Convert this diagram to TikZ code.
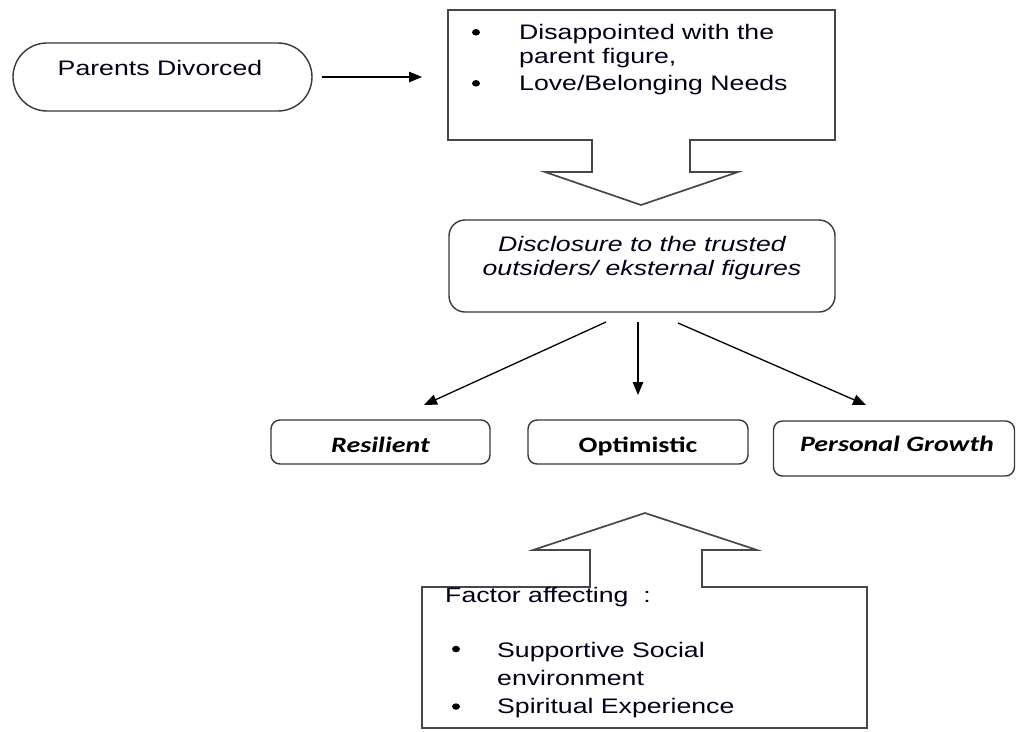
\documentclass[tikz,border=0pt]{standalone}
\usepackage{fontspec}
\usepackage{graphicx}
\setmainfont{Liberation Sans}
\newfontfamily\calfont{Carlito}
\usetikzlibrary{arrows.meta,calc,shapes.geometric}
\newcommand{\wx}[1]{\scalebox{1.27}[1]{#1}}
\begin{document}
\begin{tikzpicture}[x=1pt,y=-1pt,
  txt/.style={inner sep=0pt, font=\fontsize{21}{25}\selectfont, text=black!90!blue},
  itxt/.style={txt, font=\fontsize{21}{25}\selectfont\itshape},
  ctxt/.style={inner sep=0pt, font=\calfont\bfseries\fontsize{22}{26}\selectfont, text=black},
  citxt/.style={ctxt, font=\calfont\bfseries\itshape\fontsize{22}{26}\selectfont},
  bul/.style={ellipse, fill=black, inner sep=0pt, minimum width=8pt, minimum height=6.5pt},
  outl/.style={draw=black!72, line width=1.7pt, line join=miter},
  shapebox/.style={inner sep=0pt, outer sep=0pt},
  rbox/.style={draw=black!78, line width=1.4pt, rounded corners=9pt, inner sep=0pt, outer sep=0pt},
  arr/.style={draw=black, line width=1.3pt, -{Triangle[length=13pt,width=10.5pt]}}
]
\useasboundingbox (0,0) rectangle (1016,731);

% Parents Divorced
\node[rbox, rounded corners=34pt, minimum width=299pt, minimum height=68pt] (pd) at (162.5,77) {};
\node[txt, anchor=base] (pdt) at (160,75.5) {\wx{Parents Divorced}};

% top callout
\node[shapebox, minimum width=387pt, minimum height=130pt] (cb) at (641.5,75) {};
\draw[outl] (448,10) -- (835,10) -- (835,140) -- (690,140) -- (690,172) -- (738,172)
  -- (641,205) -- (545,172) -- (592,172) -- (592,140) -- (448,140) -- cycle;
\node[bul] (cb1) at (476,32.3) {};
\node[bul] (cb2) at (476,83.3) {};
\node[txt, anchor=base west] (cbt1) at (519,39) {\wx{Disappointed with the}};
\node[txt, anchor=base west] (cbt2) at (519,63.5) {\wx{parent figure,}};
\node[txt, anchor=base west] (cbt3) at (519,90.5) {\wx{Love/Belonging Needs}};

\draw[arr, shorten <=10pt, shorten >=26pt] (pd.east) -- (pd.east -| cb.west);

% Disclosure
\node[rbox, rounded corners=16pt, minimum width=386pt, minimum height=92pt] (disc) at (642,266) {};
\node[itxt, anchor=base] (disct1) at (642,251) {\wx{Disclosure to the trusted}};
\node[itxt, anchor=base] (disct2) at (642,275) {\wx{outsiders/ eksternal figures}};

% outcomes
\node[rbox, minimum width=219pt, minimum height=44pt] (res) at (380.5,442) {};
\node[citxt, anchor=base] (rest) at (380.5,452) {\wx{Resilient}};
\node[rbox, minimum width=220pt, minimum height=44pt] (opt) at (638,442) {};
\node[ctxt, anchor=base] (optt) at (638,452) {\wx{Optimistic}};
\node[rbox, minimum width=241pt, minimum height=55pt] (pg) at (894,448.5) {};
\node[citxt, anchor=base] (pgt) at (897,451) {\wx{Personal Growth}};

\draw[arr] ([xshift=-36pt,yshift=-10pt]disc.south) -- ([xshift=43.5pt,yshift=15pt]res.north);
\draw[arr] ([xshift=-4pt,yshift=-10pt]disc.south) -- ([yshift=25pt]opt.north);
\draw[arr] ([xshift=36pt,yshift=-11pt]disc.south) -- ([xshift=-28pt,yshift=16pt]pg.north);

% bottom callout
\node[shapebox, minimum width=445pt, minimum height=141pt] (fb) at (644.5,657.5) {};
\draw[outl] (422,587) -- (590,587) -- (590,550) -- (533,550) -- (645,513) -- (757,550)
  -- (702,550) -- (702,587) -- (867,587) -- (867,728) -- (422,728) -- cycle;
\node[txt, anchor=base west] (fbt0) at (445,602) {\wx{Factor affecting\ \ :}};
\node[bul] (fb1) at (456,649) {};
\node[bul] (fb2) at (456,706.5) {};
\node[txt, anchor=base west] (fbt1) at (497,657) {\wx{Supportive Social}};
\node[txt, anchor=base west] (fbt2) at (497,685) {\wx{environment}};
\node[txt, anchor=base west] (fbt3) at (497,713) {\wx{Spiritual Experience}};
\end{tikzpicture}
\end{document}
